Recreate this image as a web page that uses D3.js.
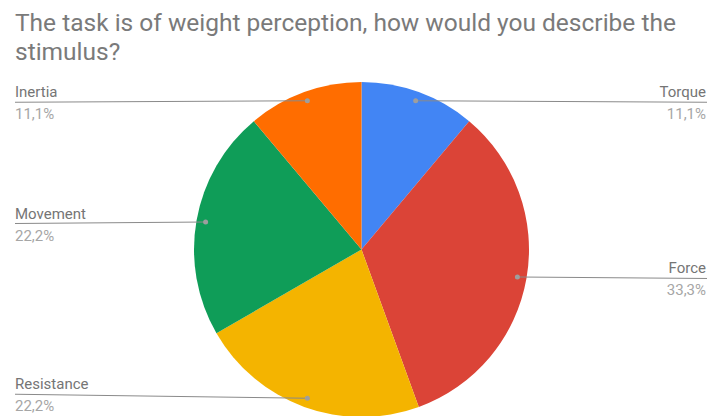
<!DOCTYPE html>
<html>
<head>
<meta charset="utf-8">
<script src="https://cdn.jsdelivr.net/npm/d3@7"></script>
<style>
  body { margin: 0; background: #fff; }
  text { font-family: Roboto, "Noto Sans", sans-serif; }
</style>
</head>
<body>
<svg id="chart" width="710" height="416"></svg>
<script>
let width = 710, height = 416;

// data
let categories = ["Torque", "Force", "Resistance", "Movement", "Inertia"];
let values = [1, 3, 2, 2, 1];
let percentLabels = ["11,1%", "33,3%", "22,2%", "22,2%", "11,1%"];
let colors = ["#4285f4", "#db4437", "#f4b400", "#0f9d58", "#ff6d00"];
let titleLines = ["The task is of weight perception, how would you describe the", "stimulus?"];

let cx = 361.5, cy = 249.5, radius = 167.5;

var svg = d3.select('#chart');

// title
svg.append('g')
    .selectAll('text')
    .data(titleLines)
    .enter().append('text')
    .attr('x', 15)
    .attr('y', (d, i) => 30.5 + i * 29)
    .attr('font-size', 24.5)
    .attr('fill', '#7a7a7a')
    .text(d => d);

var slices = categories.map((c, i) => ({name: c, value: values[i], pct: percentLabels[i], color: colors[i]}));

var pie = d3.pie().sort(null).value(d => d.value);
var arc = d3.arc().innerRadius(0).outerRadius(radius);
var dotArc = d3.arc().innerRadius(radius * 0.945).outerRadius(radius * 0.945);

var arcs = pie(slices);

var g = svg.append('g').attr('transform', 'translate(' + cx + ',' + cy + ')');

g.selectAll('path')
    .data(arcs)
    .enter().append('path')
    .attr('d', arc)
    .attr('fill', d => d.data.color);

// leader lines + labels
var labels = svg.append('g');

arcs.forEach(function(d) {
    var p = dotArc.centroid(d);
    var px = cx + p[0], py = cy + p[1];
    var right = (d.startAngle + d.endAngle) / 2 < Math.PI;
    var ly = py + 1.5;
    if (d.data.name === "Resistance") ly = py - 4;
    var x0 = right ? 707 : 15;

    labels.append('line')
        .attr('x1', px).attr('y1', py)
        .attr('x2', x0).attr('y2', ly)
        .attr('stroke', '#8a8a8a')
        .attr('stroke-width', 1);

    labels.append('circle')
        .attr('cx', px).attr('cy', py)
        .attr('r', 2.5)
        .attr('fill', '#9e9e9e');

    labels.append('text')
        .attr('x', right ? 706 : 15)
        .attr('y', ly - 5)
        .attr('text-anchor', right ? 'end' : 'start')
        .attr('font-size', 15)
        .attr('fill', '#757575')
        .text(d.data.name);

    labels.append('text')
        .attr('x', right ? 706 : 15)
        .attr('y', Math.min(ly + 17, 414))
        .attr('text-anchor', right ? 'end' : 'start')
        .attr('font-size', 15)
        .attr('fill', '#a6a6a6')
        .text(d.data.pct);
});
</script>
</body>
</html>
